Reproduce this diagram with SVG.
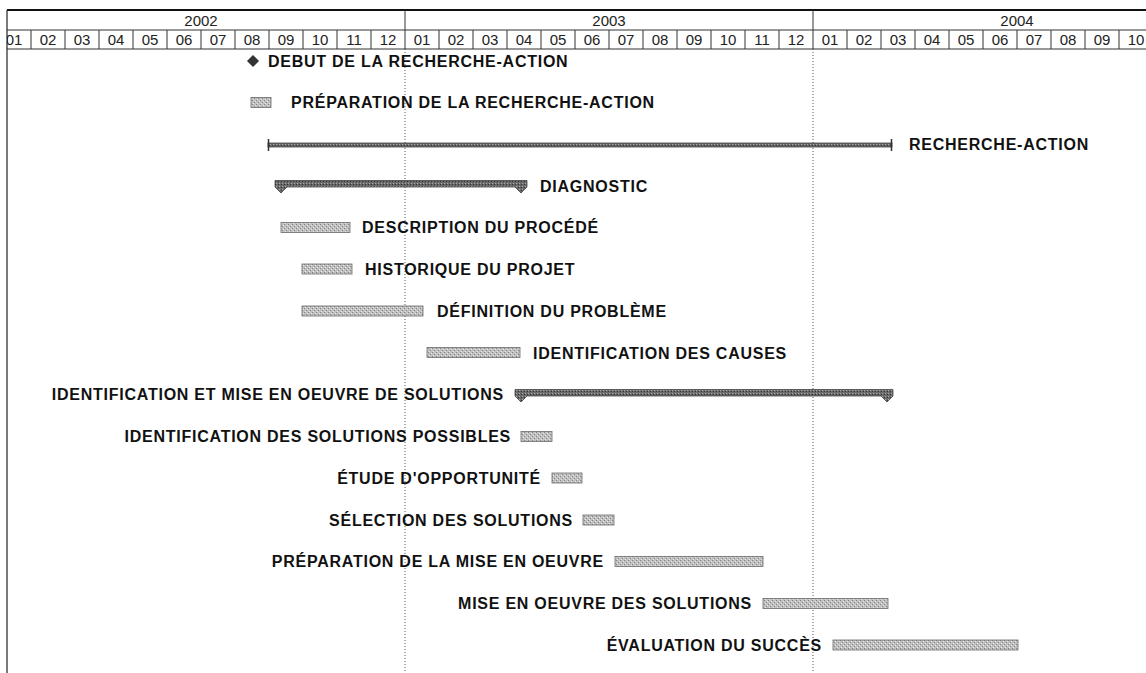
<svg xmlns="http://www.w3.org/2000/svg" width="1146" height="673" viewBox="0 0 1146 673">
<style>
.lbl{font-family:"Liberation Sans",Arial,sans-serif;font-weight:bold;font-size:16px;letter-spacing:0.75px;fill:#111}
.end{text-anchor:end}
.hdr{font-family:"Liberation Sans",Arial,sans-serif;font-size:15px;fill:#222;text-anchor:middle}
.yr{font-size:15px}
.bar{fill:url(#tex);stroke:#6a6a6a;stroke-width:0.8}
.sum{fill:url(#dtex);stroke:#444;stroke-width:0.8}
.grid{stroke:#333;stroke-width:1;fill:none}
.dot{stroke:#555;stroke-width:1;stroke-dasharray:1 2;fill:none}
</style>
<defs>
<pattern id="tex" width="4" height="4" patternUnits="userSpaceOnUse">
<rect width="4" height="4" fill="#c0c0c0"/>
<rect x="0" y="0" width="1" height="1" fill="#858585"/>
<rect x="2" y="2" width="1" height="1" fill="#858585"/>
<rect x="1" y="3" width="1" height="1" fill="#e6e6e6"/>
<rect x="3" y="1" width="1" height="1" fill="#e6e6e6"/>
</pattern>
<pattern id="dtex" width="3" height="3" patternUnits="userSpaceOnUse">
<rect width="3" height="3" fill="#6a6a6a"/>
<rect x="0" y="0" width="1" height="1" fill="#aaaaaa"/>
<rect x="2" y="1" width="1" height="1" fill="#333333"/>
</pattern>
<clipPath id="hclip"><rect x="7" y="0" width="1139" height="60"/></clipPath>
</defs>
<rect width="1146" height="673" fill="#fff"/>

<g id="timescale" clip-path="url(#hclip)">
<line x1="7" y1="10" x2="1146" y2="10" style="stroke:#111;stroke-width:2"/>
<line class="grid" x1="7" y1="30" x2="1146" y2="30"/>
<line class="grid" x1="7" y1="49" x2="1146" y2="49"/>
<line class="grid" x1="405" y1="10" x2="405" y2="30"/>
<line class="grid" x1="813" y1="10" x2="813" y2="30"/>
<text class="hdr yr" x="201" y="26">2002</text>
<text class="hdr yr" x="609" y="26">2003</text>
<text class="hdr yr" x="1017" y="26">2004</text>
<g class="grid">
<line x1="31" y1="30" x2="31" y2="49"/><line x1="65" y1="30" x2="65" y2="49"/><line x1="99" y1="30" x2="99" y2="49"/><line x1="133" y1="30" x2="133" y2="49"/><line x1="167" y1="30" x2="167" y2="49"/><line x1="201" y1="30" x2="201" y2="49"/><line x1="235" y1="30" x2="235" y2="49"/><line x1="269" y1="30" x2="269" y2="49"/><line x1="303" y1="30" x2="303" y2="49"/><line x1="337" y1="30" x2="337" y2="49"/><line x1="371" y1="30" x2="371" y2="49"/><line x1="405" y1="30" x2="405" y2="49"/>
<line x1="439" y1="30" x2="439" y2="49"/><line x1="473" y1="30" x2="473" y2="49"/><line x1="507" y1="30" x2="507" y2="49"/><line x1="541" y1="30" x2="541" y2="49"/><line x1="575" y1="30" x2="575" y2="49"/><line x1="609" y1="30" x2="609" y2="49"/><line x1="643" y1="30" x2="643" y2="49"/><line x1="677" y1="30" x2="677" y2="49"/><line x1="711" y1="30" x2="711" y2="49"/><line x1="745" y1="30" x2="745" y2="49"/><line x1="779" y1="30" x2="779" y2="49"/><line x1="813" y1="30" x2="813" y2="49"/>
<line x1="847" y1="30" x2="847" y2="49"/><line x1="881" y1="30" x2="881" y2="49"/><line x1="915" y1="30" x2="915" y2="49"/><line x1="949" y1="30" x2="949" y2="49"/><line x1="983" y1="30" x2="983" y2="49"/><line x1="1017" y1="30" x2="1017" y2="49"/><line x1="1051" y1="30" x2="1051" y2="49"/><line x1="1085" y1="30" x2="1085" y2="49"/><line x1="1119" y1="30" x2="1119" y2="49"/>
</g>
<g>
<text class="hdr" x="14" y="45">01</text><text class="hdr" x="48" y="45">02</text><text class="hdr" x="82" y="45">03</text><text class="hdr" x="116" y="45">04</text><text class="hdr" x="150" y="45">05</text><text class="hdr" x="184" y="45">06</text><text class="hdr" x="218" y="45">07</text><text class="hdr" x="252" y="45">08</text><text class="hdr" x="286" y="45">09</text><text class="hdr" x="320" y="45">10</text><text class="hdr" x="354" y="45">11</text><text class="hdr" x="388" y="45">12</text>
<text class="hdr" x="422" y="45">01</text><text class="hdr" x="456" y="45">02</text><text class="hdr" x="490" y="45">03</text><text class="hdr" x="524" y="45">04</text><text class="hdr" x="558" y="45">05</text><text class="hdr" x="592" y="45">06</text><text class="hdr" x="626" y="45">07</text><text class="hdr" x="660" y="45">08</text><text class="hdr" x="694" y="45">09</text><text class="hdr" x="728" y="45">10</text><text class="hdr" x="762" y="45">11</text><text class="hdr" x="796" y="45">12</text>
<text class="hdr" x="830" y="45">01</text><text class="hdr" x="864" y="45">02</text><text class="hdr" x="898" y="45">03</text><text class="hdr" x="932" y="45">04</text><text class="hdr" x="966" y="45">05</text><text class="hdr" x="1000" y="45">06</text><text class="hdr" x="1034" y="45">07</text><text class="hdr" x="1068" y="45">08</text><text class="hdr" x="1102" y="45">09</text><text class="hdr" x="1136" y="45">10</text>
</g>
</g>

<g id="gridlines">
<line x1="7" y1="10" x2="7" y2="673" style="stroke:#222;stroke-width:1.2"/>
<line class="dot" x1="405" y1="49" x2="405" y2="673"/>
<line class="dot" x1="813" y1="49" x2="813" y2="673"/>
</g>

<g id="connectors"></g>

<g id="t01">
<polygon points="253,55.5 258.5,61 253,66.5 247.5,61" fill="#333" stroke="#111" stroke-width="0.8"/>
<text class="lbl" x="268" y="66.5">DEBUT DE LA RECHERCHE-ACTION</text>
</g>
<g id="t02">
<rect class="bar" x="251" y="97.5" width="20" height="10"/>
<text class="lbl" x="291" y="108">PRÉPARATION DE LA RECHERCHE-ACTION</text>
</g>
<g id="t03">
<rect class="sum" x="268" y="143" width="624" height="4"/>
<line x1="268.5" y1="139" x2="268.5" y2="151" stroke="#333" stroke-width="1.5"/>
<line x1="891.5" y1="139" x2="891.5" y2="151" stroke="#333" stroke-width="1.5"/>
<text class="lbl" x="909" y="149.5">RECHERCHE-ACTION</text>
</g>
<g id="t04">
<path class="sum" d="M275,180.5 H527 V187 L521,193 L515,187 H287 L281,193 L275,187 Z"/>
<text class="lbl" x="540" y="191.5">DIAGNOSTIC</text>
</g>
<g id="t05">
<rect class="bar" x="281" y="222.5" width="69" height="10"/>
<text class="lbl" x="362" y="233">DESCRIPTION DU PROCÉDÉ</text>
</g>
<g id="t06">
<rect class="bar" x="302" y="264" width="50" height="10"/>
<text class="lbl" x="365" y="275">HISTORIQUE DU PROJET</text>
</g>
<g id="t07">
<rect class="bar" x="302" y="306" width="121" height="10"/>
<text class="lbl" x="437" y="316.5">DÉFINITION DU PROBLÈME</text>
</g>
<g id="t08">
<rect class="bar" x="427" y="347.5" width="93" height="10"/>
<text class="lbl" x="533" y="358.5">IDENTIFICATION DES CAUSES</text>
</g>
<g id="t09">
<path class="sum" d="M515,389.5 H893 V396 L887,402 L881,396 H527 L521,402 L515,396 Z"/>
<text class="lbl end" x="504" y="400">IDENTIFICATION ET MISE EN OEUVRE DE SOLUTIONS</text>
</g>
<g id="t10">
<rect class="bar" x="521" y="431.5" width="31" height="10"/>
<text class="lbl end" x="511" y="442">IDENTIFICATION DES SOLUTIONS POSSIBLES</text>
</g>
<g id="t11">
<rect class="bar" x="552" y="473" width="30" height="10"/>
<text class="lbl end" x="541" y="483.5">ÉTUDE D'OPPORTUNITÉ</text>
</g>
<g id="t12">
<rect class="bar" x="583" y="515" width="31" height="10"/>
<text class="lbl end" x="573" y="525.5">SÉLECTION DES SOLUTIONS</text>
</g>
<g id="t13">
<rect class="bar" x="615" y="556.5" width="148" height="10"/>
<text class="lbl end" x="604" y="567">PRÉPARATION DE LA MISE EN OEUVRE</text>
</g>
<g id="t14">
<rect class="bar" x="763" y="598.5" width="125" height="10"/>
<text class="lbl end" x="752" y="609">MISE EN OEUVRE DES SOLUTIONS</text>
</g>
<g id="t15">
<rect class="bar" x="833" y="640" width="185" height="10"/>
<text class="lbl end" x="822" y="650.5">ÉVALUATION DU SUCCÈS</text>
</g>
</svg>
